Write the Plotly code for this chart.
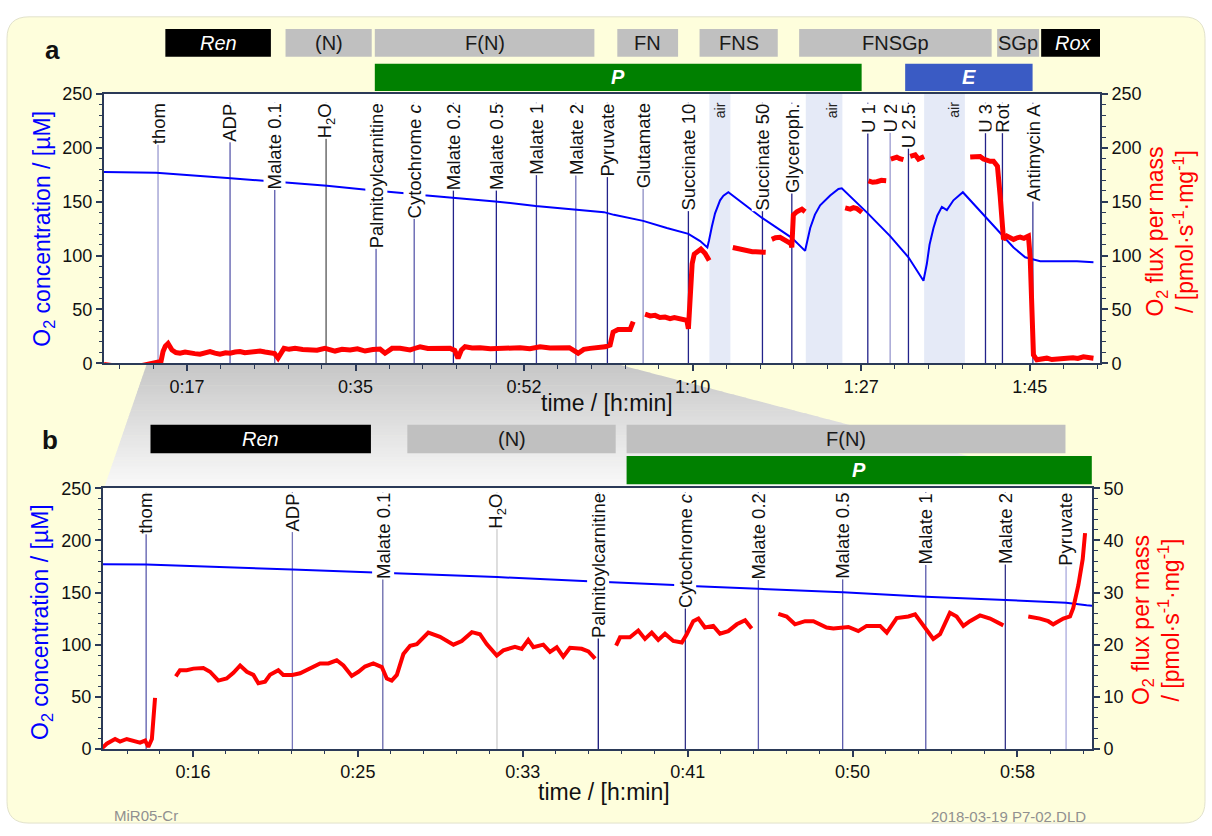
import plotly.graph_objects as go

W, H = 1212, 836
FONT = "Liberation Sans, Arial, sans-serif"
AX = "#2b3a58"

# ---------------- data ----------------
# O2 concentration [uM] vs time [min]
o2_time = [8.88, 12.11, 14.30, 21.69, 25.45, 28.14, 32.03, 36.65, 37.91, 41.28, 42.12, 45.24,
           49.50, 53.70, 57.72, 60.79, 61.83, 64.86, 67.32, 69.56, 70.78, 71.53, 71.70, 71.81,
           72.00, 72.33, 72.60, 72.85, 73.20, 73.71, 77.25, 80.30, 81.68, 81.90, 82.21, 82.70,
           83.24, 84.28, 85.14, 85.49, 88.19, 90.51, 92.41, 93.97, 94.15, 94.32, 94.60, 95.01,
           95.40, 95.88, 96.40, 97.08, 98.06, 100.41, 102.17, 103.32, 104.53, 105.33, 106.09,
           109.90, 111.62]
o2_conc = [177.5, 177.3, 176.8, 172.0, 169.5, 167.8, 164.8, 160.7, 159.8, 157.0, 156.0, 153.8,
           150.3, 146.0, 142.6, 140.3, 137.8, 132.2, 125.6, 120.2, 113.5, 107.5, 114.0, 119.6,
           127.0, 139.2, 146.0, 151.3, 155.5, 158.8, 134.7, 116.5, 104.4, 114.0, 125.6, 138.0,
           146.7, 155.8, 161.8, 162.4, 139.2, 118.1, 98.4, 76.7, 84.0, 92.4, 110.0, 125.6,
           137.0, 145.2, 142.2, 151.3, 158.8, 136.1, 118.1, 107.5, 98.4, 96.3, 94.8,
           94.8, 93.9]

# O2 flux per mass, panel a (overview)
flux_a_time = [8.88, 9.5, 10.02, 10.5, 11.06, 11.6, 12.1, 12.62, 13.1, 13.66, 14.1, 14.49, 14.8,
               15.01, 15.25, 15.53, 15.94, 16.35, 16.77, 17.3, 17.81, 18.3, 18.85, 19.4, 19.89,
               20.4, 20.93, 21.5, 21.97, 22.5, 23.0, 23.5, 24.04, 24.6, 25.08, 25.6, 26.12, 26.6,
               26.95, 27.25, 27.57, 28.1, 28.72, 29.5, 30.27, 31.0, 31.83, 32.4, 32.87, 33.6,
               34.43, 35.2, 35.99, 36.8, 37.54, 38.06, 38.4, 38.79, 39.62, 40.14, 40.66, 41.2,
               41.70, 42.5, 43.26, 44.0, 44.81, 45.3, 45.64, 46.0, 46.37, 47.1, 47.93, 49.0,
               50.0, 51.0, 52.08, 53.1, 54.16, 55.2, 56.24, 57.2, 58.11, 58.7, 59.35, 60.1,
               60.91, 61.43, 61.74, 62.26, 63.0, 63.51, 63.83, None,
               65.06, 65.6, 66.1, 66.6, 67.14, 67.66, 68.1, 68.5, 69.0, 69.4, 69.56, 69.65,
               69.8, 69.95, 70.17, 70.5, 70.86, 71.3, 71.72, None,
               74.17, 74.6, 75.0, 75.4, 75.83, 76.2, 76.55, 77.0, 77.59, None,
               78.22, 78.6, 79.08, 79.5, 79.94, 80.2, 80.30, 80.46, 80.82, 81.34, 81.68, None,
               85.84, 86.36, 86.7, 87.05, 87.57, None,
               88.26, 88.7, 89.13, 89.6, 90.1, None,
               90.58, 90.9, 91.2, 91.5, 91.89, None,
               92.59, 92.85, 93.11, 93.45, 93.75, 94.04, None,
               98.82, 99.3, 99.85, 100.2, 100.55, 100.9, 101.24, 101.65, 101.93, 102.11, 102.28,
               102.63, 103.0, 103.32, 103.7, 104.01, 104.4, 104.87, 105.05, 105.23, 105.39,
               105.74, 106.3, 106.78, 107.3, 107.82, 108.3, 108.86, 109.5, 110.0, 110.58,
               111.1, 111.62]
flux_a = [-1, -2, -2, -3, -2.5, -3, -3, -2.5, -1.5, -1.5, -0.5, 0.5, 1.8,
          10.9, 16, 18.4, 12.4, 10, 9.4, 10.5, 10.3, 9, 8.5, 10, 10.9,
          9.5, 8.5, 9.8, 9.4, 10.5, 10.9, 9.8, 10.3, 11.5, 11.4, 10.5, 10.3, 9,
          4.8, 10, 13.9, 13, 13.9, 12.8, 13, 12.2, 13.9, 12.5, 11.4, 13,
          12.4, 13.5, 11.4, 12.8, 13.3, 9.4, 12, 13.9, 13.9, 13.5, 12.4, 14,
          15.4, 13.8, 13.9, 14.5, 13.9, 12, 4.8, 12.5, 15.4, 14.2, 14.5, 13.5,
          13.9, 14.8, 14.5, 13.5, 15.4, 14.2, 13.9, 14.5, 9.4, 13, 13.9, 14.5,
          15.4, 17, 29, 31.4, 32, 31.4, 38.7, None,
          45.6, 44, 44.5, 42.5, 43, 41.5, 42.5, 42, 41.5, 40, 32, 45,
          68.2, 92.4, 101.4, 104, 106, 102, 95.4, None,
          107.5, 106.5, 106, 105, 104.5, 103.5, 103.5, 103, 103, None,
          115, 116.5, 117, 115, 113.5, 111, 107.5, 137.7, 140.7, 143.1, 140.7, None,
          144.3, 143.1, 144.5, 143.7, 140.1, None,
          169.4, 168, 168.5, 169.8, 169.4, None,
          189.6, 191, 191.4, 190, 189, None,
          192, 193, 193.5, 189.6, 191, 192, None,
          191.4, 192, 192, 189.6, 188.4, 187.5, 187.5, 183, 155.8, 122.5, 115,
          118.1, 116, 115, 116.5, 117.1, 116, 118.1, 98.4, 44, 7.9,
          3.3, 4.5, 4.8, 3.5, 4.2, 4.5, 4.8, 5.2, 4.5, 6.0,
          5, 4.8]

# O2 flux per mass, panel b (detail)
flux_b_time = [12.06, 12.31, 12.73, 12.98, 13.32, 13.66, 13.99, 14.25, 14.41, 14.59, 14.67, 14.75, None,
               15.80, 16.01, 16.35, 16.69, 17.19, 17.53, 17.95, 18.37, 18.71, 19.05, 19.39, 19.72,
               19.97, 20.31, 20.56, 20.98, 21.23, 21.69, 22.08, 22.42, 22.84, 23.09, 23.51, 23.93,
               24.27, 24.69, 25.03, 25.36, 25.78, 26.21, 26.46, 26.71, 26.97, 27.30, 27.64, 27.98,
               28.56, 29.15, 29.83, 30.25, 30.76, 31.17, 31.51, 32.02, 32.35, 32.94, 33.28, 33.61,
               33.87, 34.37, 34.71, 35.05, 35.38, 35.72, 36.31, 36.65, 36.99, None,
               38.05, 38.25, 38.75, 39.17, 39.51, 39.85, 40.18, 40.52, 40.94, 41.37, 41.62, 41.95,
               42.21, 42.54, 42.96, 43.30, 43.72, 44.15, 44.57, 44.90, None,
               46.25, 46.67, 47.09, 47.60, 48.02, 48.69, 49.03, 49.79, 50.29, 50.71, 51.39, 51.73,
               52.23, 52.82, 53.16, 53.41, 53.75, 54.08, 54.42, 54.92, 55.26, 55.60, 55.93, 56.44,
               56.95, 57.36, 57.62, None,
               58.88, 59.47, 59.89, 60.14, 60.65, 60.99, 61.15, 61.41, 61.63, 61.75]
flux_b = [0.1, 1.0, 1.9, 1.4, 1.9, 1.6, 1.2, 1.6, 0.4, 1.9, 7.0, 9.8, None,
          13.9, 15.1, 15.1, 15.4, 15.5, 14.8, 13.1, 13.5, 14.6, 16.0, 14.8, 14.2,
          12.6, 12.9, 14.2, 15.1, 14.2, 14.2, 14.5, 15.1, 16.0, 16.4, 16.4, 17.0,
          16.0, 14.0, 14.8, 15.8, 16.4, 15.7, 13.5, 13.1, 14.2, 18.2, 19.8, 20.1,
          22.3, 21.5, 20.0, 20.7, 22.4, 22.0, 20.1, 17.9, 18.9, 19.6, 19.2, 20.9,
          19.5, 20.0, 18.6, 19.5, 17.7, 19.4, 19.2, 18.7, 17.3, None,
          19.8, 21.4, 21.4, 22.7, 21.1, 22.3, 20.9, 22.1, 20.7, 20.4, 22.0, 24.5,
          25.0, 23.3, 23.6, 22.1, 22.6, 23.9, 24.7, 23.1, None,
          25.9, 25.4, 23.9, 24.5, 24.5, 23.3, 23.1, 23.4, 22.6, 23.6, 23.6, 22.3,
          25.1, 25.4, 25.8, 24.5, 22.9, 21.1, 22.0, 26.1, 25.4, 23.6, 24.5, 25.6,
          25.0, 24.2, 23.7, None,
          25.4, 25.0, 24.5, 23.9, 25.0, 25.4, 27.0, 31.4, 36.4, 41.4]

# titration events
event_labels_a = ["thom", "ADP", "Malate 0.1", "H<sub>2</sub>O", "Palmitoylcarnitine",
                  "Cytochrome <i>c</i>", "Malate 0.2", "Malate 0.5", "Malate 1", "Malate 2",
                  "Pyruvate", "Glutamate", "Succinate 10", "Succinate 50", "Glyceroph.",
                  "U 1", "U 2", "U 2.5", "U 3", "Rot", "Antimycin A"]
event_time_a = [14.49, 21.97, 26.61, 31.94, 37.13, 41.09, 45.16, 49.62, 53.78, 57.87,
                61.15, 64.86, 69.56, 77.25, 80.30, 88.19, 90.51, 92.41, 100.41, 102.17, 105.33]
event_labels_b = event_labels_a[:11]
event_time_b = [14.30, 21.69, 26.26, 32.03, 37.15, 41.55, 45.24, 49.50, 53.70, 57.72, 60.79]

# reoxygenation ("air") periods, panel a
air_start = [71.74, 81.75, 94.04]
air_end = [73.92, 85.55, 98.27]

# protocol state bars
states_a = ["<i>Ren</i>", "(N)", "F(N)", "FN", "FNS", "FNSGp", "SGp", "<i>Rox</i>"]
states_a_start = [15.25, 27.73, 37.0, 62.18, 70.72, 81.06, 101.62, 106.19]
states_a_end = [26.21, 36.68, 59.8, 68.49, 78.84, 101.05, 105.98, 112.97]
coupling_a = ["<b><i>P</i></b>", "<b><i>E</i></b>"]
coupling_a_start = [37.0, 92.07]
coupling_a_end = [87.55, 105.3]

states_b = ["<i>Ren</i>", "(N)", "F(N)"]
states_b_start = [14.52, 27.5, 38.58]
states_b_end = [25.66, 38.03, 60.76]
coupling_b = ["<b><i>P</i></b>"]
coupling_b_start = [38.58]
coupling_b_end = [62.09]

# axis ticks
xa_tickvals = [17.5, 35, 52.5, 70, 87.5, 105]
xa_ticktext = ["0:17", "0:35", "0:52", "1:10", "1:27", "1:45"]
xb_tickvals = [16.6667, 25, 33.3333, 41.6667, 50, 58.3333]
xb_ticktext = ["0:16", "0:25", "0:33", "0:41", "0:50", "0:58"]

# ---------------- styles ----------------
state_colors_a = ["#000000", "#c0c0c0", "#c0c0c0", "#c0c0c0", "#c0c0c0", "#c0c0c0", "#c0c0c0", "#000000"]
state_text_a = ["white", "#1a1a1a", "#1a1a1a", "#1a1a1a", "#1a1a1a", "#1a1a1a", "#1a1a1a", "white"]
coupling_colors_a = ["#008000", "#3a5bc4"]
state_colors_b = ["#000000", "#c0c0c0", "#c0c0c0"]
state_text_b = ["white", "#1a1a1a", "#1a1a1a"]
ev_color_a = ["#9a9ad0", "#5a5aac", "#5a5aac", "#555555", "#5a5aac", "#5a5aac", "#23238a",
              "#23238a", "#3a3a98", "#7070b8", "#23238a", "#8c8cc4", "#23238a", "#23238a",
              "#23238a", "#23238a", "#9a9ad0", "#23238a", "#23238a", "#23238a", "#3a3a98"]
ev_color_b = ["#5a5aac", "#7777bb", "#6666aa", "#cccccc", "#141478", "#333388", "#5a5aac",
              "#5a5aac", "#5a5aac", "#333388", "#aaaadd"]


def px(x):
    return x / W


def py(y):
    return 1 - y / H


# panel geometry (pixels)
A_L, A_R, A_T, A_B = 104, 1100, 86, 362
B_L, B_R, B_T, B_B = 103, 1092, 490, 757

shapes = []
annotations = []

# yellow rounded background
x0, y0, x1, y1, r = 7, 7, 1205, 833, 22
path = (f"M {px(x0 + r)},{py(y0)} L {px(x1 - r)},{py(y0)} Q {px(x1)},{py(y0)} {px(x1)},{py(y0 + r)} "
        f"L {px(x1)},{py(y1 - r)} Q {px(x1)},{py(y1)} {px(x1 - r)},{py(y1)} "
        f"L {px(x0 + r)},{py(y1)} Q {px(x0)},{py(y1)} {px(x0)},{py(y1 - r)} "
        f"L {px(x0)},{py(y0 + r)} Q {px(x0)},{py(y0)} {px(x0 + r)},{py(y0)} Z")
shapes.append(dict(type="path", xref="paper", yref="paper", path=path, fillcolor="#fefedc",
                   line=dict(color="#e2e2cc", width=1), layer="below"))

# gray zoom trapezoid with vertical gradient
N = 40
gy0, gy1 = A_B, B_T


def xl(y):
    return 147 + (104 - 147) * (y - gy0) / (gy1 - gy0)


def xr(y):
    return 614 + (1092 - 614) * (y - gy0) / (gy1 - gy0)


for i in range(N):
    ya = gy0 + (gy1 - gy0) * i / N
    yb = min(gy0 + (gy1 - gy0) * (i + 1) / N + 0.6, gy1)
    c = int(round(198 + (250 - 198) * (i + 0.5) / N))
    p = (f"M {px(xl(ya))},{py(ya)} L {px(xr(ya))},{py(ya)} L {px(xr(yb))},{py(yb)} "
         f"L {px(xl(yb))},{py(yb)} Z")
    shapes.append(dict(type="path", xref="paper", yref="paper", path=p,
                       fillcolor=f"rgb({c},{c},{c})", line=dict(width=0), layer="below"))

# white plot areas
shapes.append(dict(type="rect", xref="x domain", yref="y domain", x0=0, x1=1, y0=0, y1=1,
                   fillcolor="white", line=dict(width=0), layer="below"))
shapes.append(dict(type="rect", xref="x2 domain", yref="y3 domain", x0=0, x1=1, y0=0, y1=1,
                   fillcolor="white", line=dict(width=0), layer="below"))

# air bands
for s, e in zip(air_start, air_end):
    shapes.append(dict(type="rect", xref="x", yref="y domain", x0=s, x1=e, y0=0, y1=1,
                       fillcolor="#e5eaf7", line=dict(width=0), layer="below"))
    annotations.append(dict(x=e, xref="x", y=py(A_T + 6), yref="paper", text="air",
                            textangle=-90, xanchor="right", yanchor="top", xshift=-1,
                            showarrow=False, font=dict(size=14, color="#222", family=FONT)))

# event lines and labels
LAB_A = A_T + 9
LAB_B = B_T + 4
for lab, t, col in zip(event_labels_a, event_time_a, ev_color_a):
    shapes.append(dict(type="line", xref="x", yref="paper", x0=t, x1=t, y0=py(A_B), y1=py(LAB_A),
                       line=dict(color=col, width=1.3), layer="below"))
    annotations.append(dict(x=t, xref="x", y=py(LAB_A), yref="paper", text=lab, textangle=-90,
                            xanchor="center", yanchor="top", showarrow=False, bgcolor="white",
                            borderpad=0, font=dict(size=18.5, color="#111", family=FONT)))
for lab, t, col in zip(event_labels_b, event_time_b, ev_color_b):
    shapes.append(dict(type="line", xref="x2", yref="paper", x0=t, x1=t, y0=py(B_B), y1=py(LAB_B),
                       line=dict(color=col, width=1.3), layer="below"))
    annotations.append(dict(x=t, xref="x2", y=py(LAB_B), yref="paper", text=lab, textangle=-90,
                            xanchor="center", yanchor="top", showarrow=False, bgcolor="white",
                            borderpad=0, font=dict(size=18.5, color="#111", family=FONT)))


# state bars
def add_bars(labels, starts, ends, colors, tcolors, xref, ytop, ybot, size=20):
    for lab, s, e, c, tc in zip(labels, starts, ends, colors, tcolors):
        shapes.append(dict(type="rect", xref=xref, yref="paper", x0=s, x1=e, y0=py(ybot), y1=py(ytop),
                           fillcolor=c, line=dict(width=0), layer="below"))
        annotations.append(dict(x=(s + e) / 2, xref=xref, y=py((ytop + ybot) / 2), yref="paper",
                                text=lab, showarrow=False, xanchor="center", yanchor="middle",
                                font=dict(size=size, color=tc, family=FONT)))


add_bars(states_a, states_a_start, states_a_end, state_colors_a, state_text_a, "x", 19.5, 48)
add_bars(coupling_a, coupling_a_start, coupling_a_end, coupling_colors_a, ["white", "white"], "x", 55, 83)
add_bars(states_b, states_b_start, states_b_end, state_colors_b, state_text_b, "x2", 425, 454)
add_bars(coupling_b, coupling_b_start, coupling_b_end, ["#008000"], ["white"], "x2", 457, 486)


# titles and texts
def txt(x, y, text, size, color, angle=0, **kw):
    annotations.append(dict(x=px(x), y=py(y), xref="paper", yref="paper", text=text, textangle=angle,
                            showarrow=False, xanchor="center", yanchor="middle",
                            font=dict(size=size, color=color, family=FONT), **kw))


left_title = "O<sub>2</sub> concentration / [µM]"
right_title = "O<sub>2</sub> flux per mass<br>/ [pmol·s<sup>-1</sup>·mg<sup>-1</sup>]"
txt(44, 224, left_title, 23, "#0000ff", -90)
txt(1170, 227, right_title, 23, "#ff0000", -90)
txt(41, 627, left_title, 23, "#0000ff", -90)
txt(1156, 625, right_title, 23, "#ff0000", -90)
txt(607, 403, "time / [h:min]", 23, "#111")
txt(604, 801, "time / [h:min]", 23, "#111")
txt(52, 41, "<b>a</b>", 26, "#111")
txt(50, 441, "<b>b</b>", 26, "#111")
txt(146, 825, "MiR05-Cr", 15, "#909090")
txt(1008, 826, "2018-03-19 P7-02.DLD", 15, "#909090")

# ---------------- figure ----------------
fig = go.Figure()
fig.add_trace(go.Scatter(x=o2_time, y=o2_conc, xaxis="x", yaxis="y", mode="lines",
                         line=dict(color="#0000ff", width=2), hoverinfo="skip", showlegend=False))
fig.add_trace(go.Scatter(x=flux_a_time, y=flux_a, xaxis="x", yaxis="y2", mode="lines",
                         line=dict(color="#ff0000", width=5), hoverinfo="skip", showlegend=False))
fig.add_trace(go.Scatter(x=o2_time, y=o2_conc, xaxis="x2", yaxis="y3", mode="lines",
                         line=dict(color="#0000ff", width=2), hoverinfo="skip", showlegend=False))
fig.add_trace(go.Scatter(x=flux_b_time, y=flux_b, xaxis="x2", yaxis="y4", mode="lines",
                         line=dict(color="#ff0000", width=4), hoverinfo="skip", showlegend=False))

common = dict(showline=True, linecolor=AX, linewidth=2, ticks="outside", tickcolor=AX, tickwidth=1.5,
              ticklen=6, showgrid=False, zeroline=False,
              tickfont=dict(size=18, color="#111", family=FONT))


def minor(dt):
    return dict(dtick=dt, tick0=0, ticks="outside", ticklen=3.5, tickcolor=AX, tickwidth=1.2, showgrid=False)


fig.update_layout(
    width=W, height=H, autosize=False, margin=dict(l=0, r=0, t=0, b=0),
    paper_bgcolor="white", plot_bgcolor="rgba(0,0,0,0)", showlegend=False,
    xaxis=dict(domain=[px(A_L), px(A_R)], range=[8.88, 112.3], anchor="y", tickmode="array",
               tickvals=xa_tickvals, ticktext=xa_ticktext, mirror=True, minor=minor(3.5), **common),
    yaxis=dict(domain=[py(A_B), py(A_T)], range=[0, 250], anchor="x", tick0=0, dtick=50,
               minor=minor(10), **common),
    yaxis2=dict(overlaying="y", side="right", anchor="x", range=[0, 250], tick0=0, dtick=50,
                minor=minor(10), **common),
    xaxis2=dict(domain=[px(B_L), px(B_R)], range=[12.12, 62.1], anchor="y3", tickmode="array",
                tickvals=xb_tickvals, ticktext=xb_ticktext, mirror=True, minor=minor(5 / 3), **common),
    yaxis3=dict(domain=[py(B_B), py(B_T)], range=[0, 250], anchor="x2", tick0=0, dtick=50,
                minor=minor(10), **common),
    yaxis4=dict(overlaying="y3", side="right", anchor="x2", range=[0, 50], tick0=0, dtick=10,
                minor=minor(2), **common),
    shapes=shapes, annotations=annotations,
)

fig.write_html("out.html")
